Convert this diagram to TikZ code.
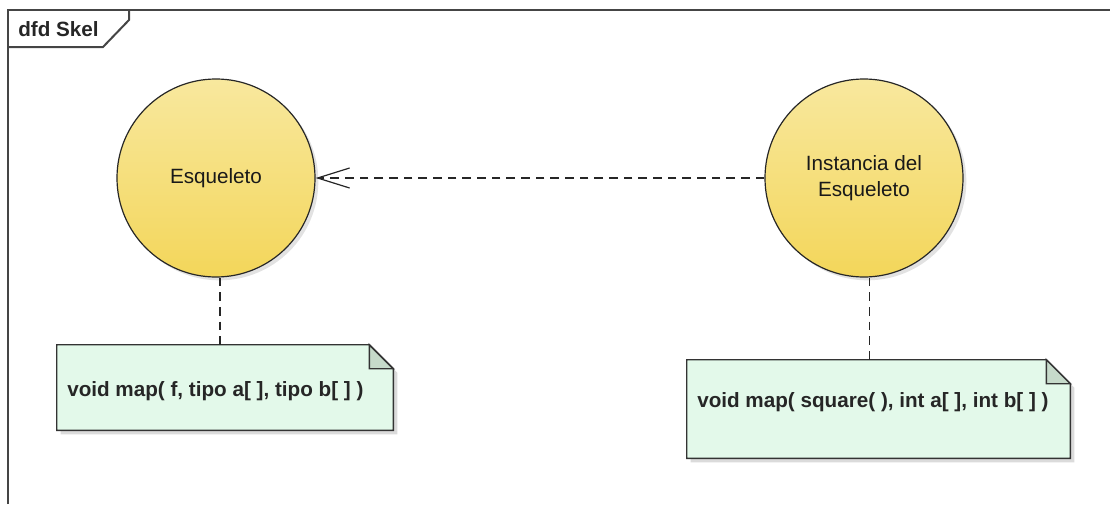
\documentclass[tikz,border=0pt]{standalone}
\usepackage{fontspec}
\setmainfont{Liberation Sans}
\usetikzlibrary{arrows.meta,shadows}
\definecolor{procTop}{HTML}{F8E89E}
\definecolor{procBot}{HTML}{F3D65A}
\definecolor{noteFill}{HTML}{E3F9EA}
\definecolor{foldFill}{HTML}{C6DACA}
\definecolor{frameLine}{HTML}{454545}
\begin{document}
\begin{tikzpicture}[x=0.75pt,y=-0.75pt,
  proc/.style={circle, draw=black!85, line width=0.9pt, minimum size=148.5pt,
    inner sep=0pt, top color=procTop, bottom color=procBot,
    drop shadow={shadow xshift=2.5pt, shadow yshift=-2.5pt, opacity=0.25, fill=black!45},
    font=\fontsize{15.5}{20}\selectfont, align=center, text=black!90},
  notebody/.style={inner sep=0pt, draw=none},
  notetext/.style={anchor=west, inner sep=0pt, font=\bfseries\fontsize{15.5}{19}\selectfont, text=black!85},
  noteline/.style={draw=black!80, line width=1.1pt, fill=noteFill},
  foldline/.style={draw=black!80, line width=1.1pt, fill=foldFill},
  noteshadow/.style={fill=black!14, draw=none, transform canvas={xshift=3pt, yshift=-3pt}},
  link/.style={draw=black!85, line width=0.9pt, dash pattern=on 6.5pt off 4.5pt},
  frameedge/.style={draw=frameLine, line width=1.5pt},
]
\useasboundingbox (0,0) rectangle (1110,504);

% diagram frame and its name tab
\draw[frameedge] (8,504) -- (8,10) -- (1110,10);
\draw[frameedge] (8,47) -- (103,47) -- (129,20) -- (129,10);
\node[anchor=west, inner sep=0pt, font=\bfseries\fontsize{15.5}{19}\selectfont, text=black!85] (title) at (18,29) {dfd Skel};

% processes
\node[proc] (esq) at (216,178) {Esqueleto};
\node[proc] (inst) at (864,178) {Instancia del\\Esqueleto};

% note bodies (placeholders for the outlines drawn below)
\node[notebody, minimum width=252pt, minimum height=63.75pt] (n1) at (225,387.5) {};
\node[notebody, minimum width=287.25pt, minimum height=73.5pt] (n2) at (878.5,409) {};

% note outlines with folded corner, each over a soft offset shadow
\foreach \n in {n1,n2}{
  \path[noteshadow] (\n.north west) -- ([xshift=-18pt]\n.north east) -- ([yshift=-18pt]\n.north east) -- (\n.south east) -- (\n.south west) -- cycle;
  \path[noteline] (\n.north west) -- ([xshift=-18pt]\n.north east) -- ([yshift=-18pt]\n.north east) -- (\n.south east) -- (\n.south west) -- cycle;
  \path[foldline] ([xshift=-18pt]\n.north east) -- ([xshift=-18pt,yshift=-18pt]\n.north east) -- ([yshift=-18pt]\n.north east) -- cycle;
}
\node[notetext] (t1) at (67,391) {void map( f, tipo a[ ], tipo b[ ] )};
\node[notetext] (t2) at (697,402) {void map( square( ), int a[ ], int b[ ] )};

% dependency between the processes
\draw[link, -{Straight Barb[length=24pt,width=15pt,line width=0.9pt]}] (inst.west) -- (esq.east);

% note anchors
\draw[link] ([xshift=3pt]esq.south) -- ([xshift=3pt]esq.south |- n1.north);
\draw[link] ([xshift=4pt]inst.south) -- ([xshift=4pt]inst.south |- n2.north);
\end{tikzpicture}
\end{document}
